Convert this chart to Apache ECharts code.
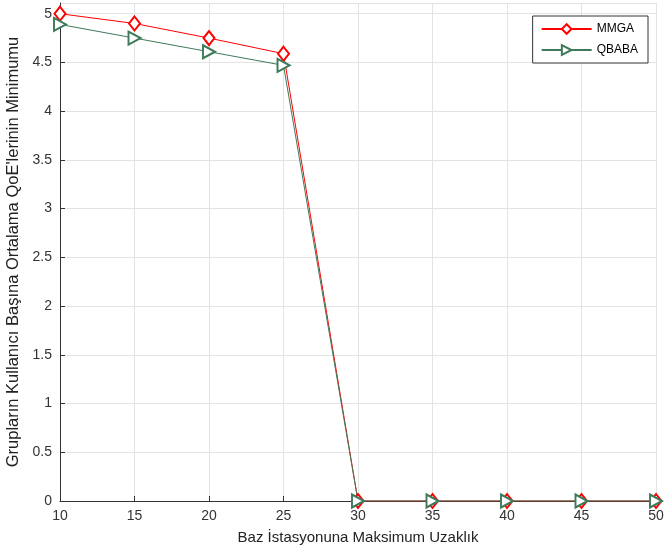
<!DOCTYPE html>
<html><head><meta charset="utf-8">
<script src="https://cdn.jsdelivr.net/npm/echarts@6/dist/echarts.min.js"></script>
<style>html,body{margin:0;padding:0;background:#fff}#c{width:664px;height:551px}</style>
</head><body><div id="c"></div>
<script>
var categories = [10, 15, 20, 25, 30, 35, 40, 45, 50];
var mmga = [5.0, 4.90, 4.75, 4.59, 0, 0, 0, 0, 0];
var qbaba = [4.89, 4.75, 4.61, 4.47, 0, 0, 0, 0, 0];
var xTitle = 'Baz İstasyonuna Maksimum Uzaklık';
var yTitle = "Grupların Kullanıcı Başına Ortalama QoE'lerinin Minimumu";

var chart = echarts.init(document.getElementById('c'));
function pairs(arr){return categories.map(function(x,i){return [x,arr[i]];});}
chart.setOption({
  animation:false,
  textStyle:{fontFamily:'Liberation Sans, Arial, sans-serif'},
  grid:{left:60,right:8,top:3,bottom:50,containLabel:false,outerBoundsMode:'none'},
  legend:{
    right:16, top:16, orient:'vertical', itemGap:9,
    itemWidth:50, itemHeight:12,
    borderColor:'#333', borderWidth:1, borderRadius:0, padding:[7,10,7,8],
    backgroundColor:'#fff',
    textStyle:{fontSize:12,color:'#000'},
    data:['MMGA','QBABA']
  },
  xAxis:{
    type:'value', min:10, max:50, interval:5,
    name:xTitle, nameLocation:'middle', nameGap:29,
    nameTextStyle:{fontSize:15,color:'#222'},
    axisLine:{lineStyle:{color:'#333'}},
    axisTick:{show:true,length:5,inside:true,lineStyle:{color:'#333'}},
    axisLabel:{fontSize:14,color:'#333',margin:8},
    splitLine:{show:true,lineStyle:{color:'#e3e3e3'}}
  },
  yAxis:{
    type:'value', min:0, max:5.11, interval:0.5,
    name:yTitle, nameLocation:'middle', nameGap:34,
    nameTextStyle:{fontSize:16.5,color:'#222'},
    axisLine:{show:true,lineStyle:{color:'#333'}},
    axisTick:{show:true,length:5,inside:true,lineStyle:{color:'#333'}},
    axisLabel:{fontSize:14,color:'#333',margin:8,showMaxLabel:false},
    splitLine:{show:true,lineStyle:{color:'#e3e3e3'}}
  },
  series:[
    {name:'MMGA',type:'line',data:pairs(mmga),symbol:'emptyDiamond',symbolSize:[11,14],
     color:'#ff0000',lineStyle:{width:1,color:'#ff0000'},itemStyle:{color:'#ff0000',borderWidth:1}},
    {name:'QBABA',type:'line',data:pairs(qbaba),symbol:'emptyTriangle',symbolRotate:-90,symbolSize:[13,12],
     color:'#3e7a5a',lineStyle:{width:1,color:'#3e7a5a'},itemStyle:{color:'#3e7a5a',borderWidth:1}}
  ]
});
</script></body></html>
